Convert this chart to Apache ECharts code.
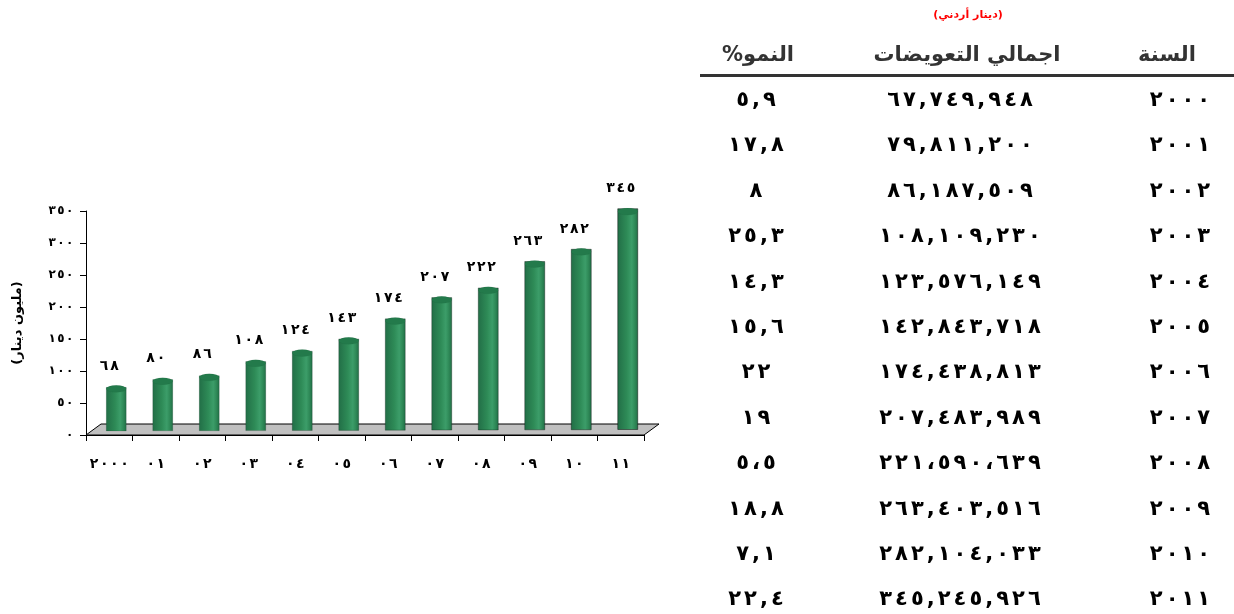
<!DOCTYPE html>
<html>
<head>
<meta charset="utf-8">
<script src="https://cdn.jsdelivr.net/npm/echarts@6/dist/echarts.min.js"></script>
<style>
  html, body { margin: 0; padding: 0; background: #fff; }
  #chart { position: absolute; left: 0; top: 0; width: 1234px; height: 614px; }
  #table { position: absolute; left: 0; top: 0; width: 1234px; height: 614px; pointer-events: none;
           font-family: "DejaVu Sans", sans-serif; font-weight: bold; direction: rtl; }
  .cell { position: absolute; transform: translateX(-50%); white-space: nowrap; }
  .head { color: #333; font-size: 21px; }
  .num { color: #000; font-size: 21px; }
  .num span { margin: 0 1.5px; }
  .unit { color: #ff0000; font-size: 11px; }
  .rule { position: absolute; left: 700px; right: 0; top: 74px; height: 3px; background: #333; }
</style>
</head>
<body>
<div id="chart"></div>
<div id="table"></div>
<script>
// فئات المحور الأفقي والقيم (مليون دينار)
const categories = ['٢٠٠٠', '٠١', '٠٢', '٠٣', '٠٤', '٠٥', '٠٦', '٠٧', '٠٨', '٠٩', '١٠', '١١'];
const values = [68, 80, 86, 108, 124, 143, 174, 207, 222, 263, 282, 345];
const valueLabels = ['٦٨', '٨٠', '٨٦', '١٠٨', '١٢٤', '١٤٣', '١٧٤', '٢٠٧', '٢٢٢', '٢٦٣', '٢٨٢', '٣٤٥'];
const yTicks = ['٠', '٥٠', '١٠٠', '١٥٠', '٢٠٠', '٢٥٠', '٣٠٠', '٣٥٠'];

// جدول التعويضات
const tableYears = ['٢٠٠٠', '٢٠٠١', '٢٠٠٢', '٢٠٠٣', '٢٠٠٤', '٢٠٠٥', '٢٠٠٦', '٢٠٠٧', '٢٠٠٨', '٢٠٠٩', '٢٠١٠', '٢٠١١'];
const tableTotals = ['٦٧,٧٤٩,٩٤٨', '٧٩,٨١١,٢٠٠', '٨٦,١٨٧,٥٠٩', '١٠٨,١٠٩,٢٣٠', '١٢٣,٥٧٦,١٤٩', '١٤٢,٨٤٣,٧١٨',
  '١٧٤,٤٣٨,٨١٣', '٢٠٧,٤٨٣,٩٨٩', '٢٢١،٥٩٠،٦٣٩', '٢٦٣,٤٠٣,٥١٦', '٢٨٢,١٠٤,٠٣٣', '٣٤٥,٢٤٥,٩٢٦'];
const tableGrowth = ['٥,٩', '١٧,٨', '٨', '٢٥,٣', '١٤,٣', '١٥,٦', '٢٢', '١٩', '٥،٥', '١٨,٨', '٧,١', '٢٢,٤'];
const tableHeaders = ['السنة', 'اجمالي التعويضات', 'النمو%'];
const tableUnit = '(دينار أردني)';

const font = '"DejaVu Sans", sans-serif';
const chart = echarts.init(document.getElementById('chart'));

// الأرقام العربية متباعدة كما في الأصل
const spaced = (s) => s.split('').map(c => '{d|' + c + '}').join('');
const digitStyle = (size, pad) => ({
  d: { fontFamily: font, fontWeight: 'bold', fontSize: size, color: '#000', padding: [0, pad] }
});

const barBody = new echarts.graphic.LinearGradient(0, 0, 1, 0, [
  { offset: 0, color: '#226f47' },
  { offset: 0.45, color: '#2e8b57' },
  { offset: 0.7, color: '#3c9d69' },
  { offset: 0.85, color: '#2f8a58' },
  { offset: 1, color: '#226f47' }
]);

const option = {
  animation: false,
  grid: { left: 86, right: 590, top: 211, bottom: 179 },
  xAxis: {
    type: 'category',
    data: categories,
    boundaryGap: true,
    axisLine: { lineStyle: { color: '#000', width: 1 } },
    axisTick: { show: true, interval: 0, length: 6, lineStyle: { color: '#000' } },
    axisLabel: {
      interval: 0,
      hideOverlap: false,
      margin: 22,
      formatter: (v) => spaced(v),
      rich: digitStyle(14, 0.8)
    }
  },
  yAxis: {
    type: 'value',
    min: 0,
    max: 350,
    interval: 50,
    name: '(مليون دينار)',
    nameLocation: 'middle',
    nameGap: 62,
    nameRotate: 90,
    nameTextStyle: { color: '#000', fontFamily: font, fontWeight: 'bold', fontSize: 13 },
    splitLine: { show: false },
    axisLine: { show: true, lineStyle: { color: '#000', width: 1 } },
    axisTick: { show: true, length: 6, lineStyle: { color: '#000' } },
    axisLabel: {
      margin: 12,
      formatter: (v) => spaced(yTicks[v / 50]),
      rich: digitStyle(12, 0.7)
    }
  },
  series: [
    {
      // الأرضية الرمادية
      type: 'custom',
      z: 1,
      silent: true,
      data: [[0, 0]],
      renderItem: (params, api) => {
        const band = api.size([1, 0])[0];
        const p0 = api.coord([0, 0]);
        const x0 = p0[0] - band / 2;
        const x1 = x0 + band * categories.length;
        const y0 = p0[1];
        return {
          type: 'polygon',
          shape: { points: [[x0, y0], [x1, y0], [x1 + 15, y0 - 11], [x0 + 15, y0 - 11]] },
          style: { fill: '#c0c0c0', stroke: '#000', lineWidth: 1 }
        };
      }
    },
    {
      type: 'pictorialBar',
      z: 3,
      symbol: 'rect',
      symbolSize: [20, '100%'],
      symbolOffset: [7, -3],
      itemStyle: { color: barBody, borderColor: '#000', borderWidth: 1.5 },
      data: values
    },
    {
      type: 'pictorialBar',
      z: 4,
      symbol: 'circle',
      symbolPosition: 'end',
      symbolSize: [20, 7],
      symbolOffset: [7, -6.5],
      itemStyle: { color: '#237a4b', borderColor: '#000', borderWidth: 1.2 },
      label: {
        show: true,
        position: 'top',
        distance: 12,
        formatter: (p) => spaced(valueLabels[p.dataIndex]),
        rich: digitStyle(14, 0.9)
      },
      data: values
    }
  ]
};
chart.setOption(option);

// بناء الجدول من المصفوفات
const table = document.getElementById('table');
const colX = [1180, 960, 756];
function addCell(text, cls, x, y, split) {
  const d = document.createElement('div');
  d.className = 'cell ' + cls;
  d.style.left = x + 'px';
  d.style.top = y + 'px';
  if (split) {
    text.split('').forEach(c => {
      const s = document.createElement('span');
      s.textContent = c;
      d.appendChild(s);
    });
  } else {
    d.textContent = text;
  }
  table.appendChild(d);
}
addCell(tableUnit, 'unit', 968, 8, false);
const headX = [1167, 967, 758];
tableHeaders.forEach((h, i) => addCell(h, 'head', headX[i], 42, false));
const rule = document.createElement('div');
rule.className = 'rule';
table.appendChild(rule);
tableYears.forEach((yr, i) => {
  const top = 87 + i * 45.4;
  addCell(yr, 'num', colX[0], top, true);
  addCell(tableTotals[i], 'num', colX[1], top, true);
  addCell(tableGrowth[i], 'num', colX[2], top, true);
});
</script>
</body>
</html>
